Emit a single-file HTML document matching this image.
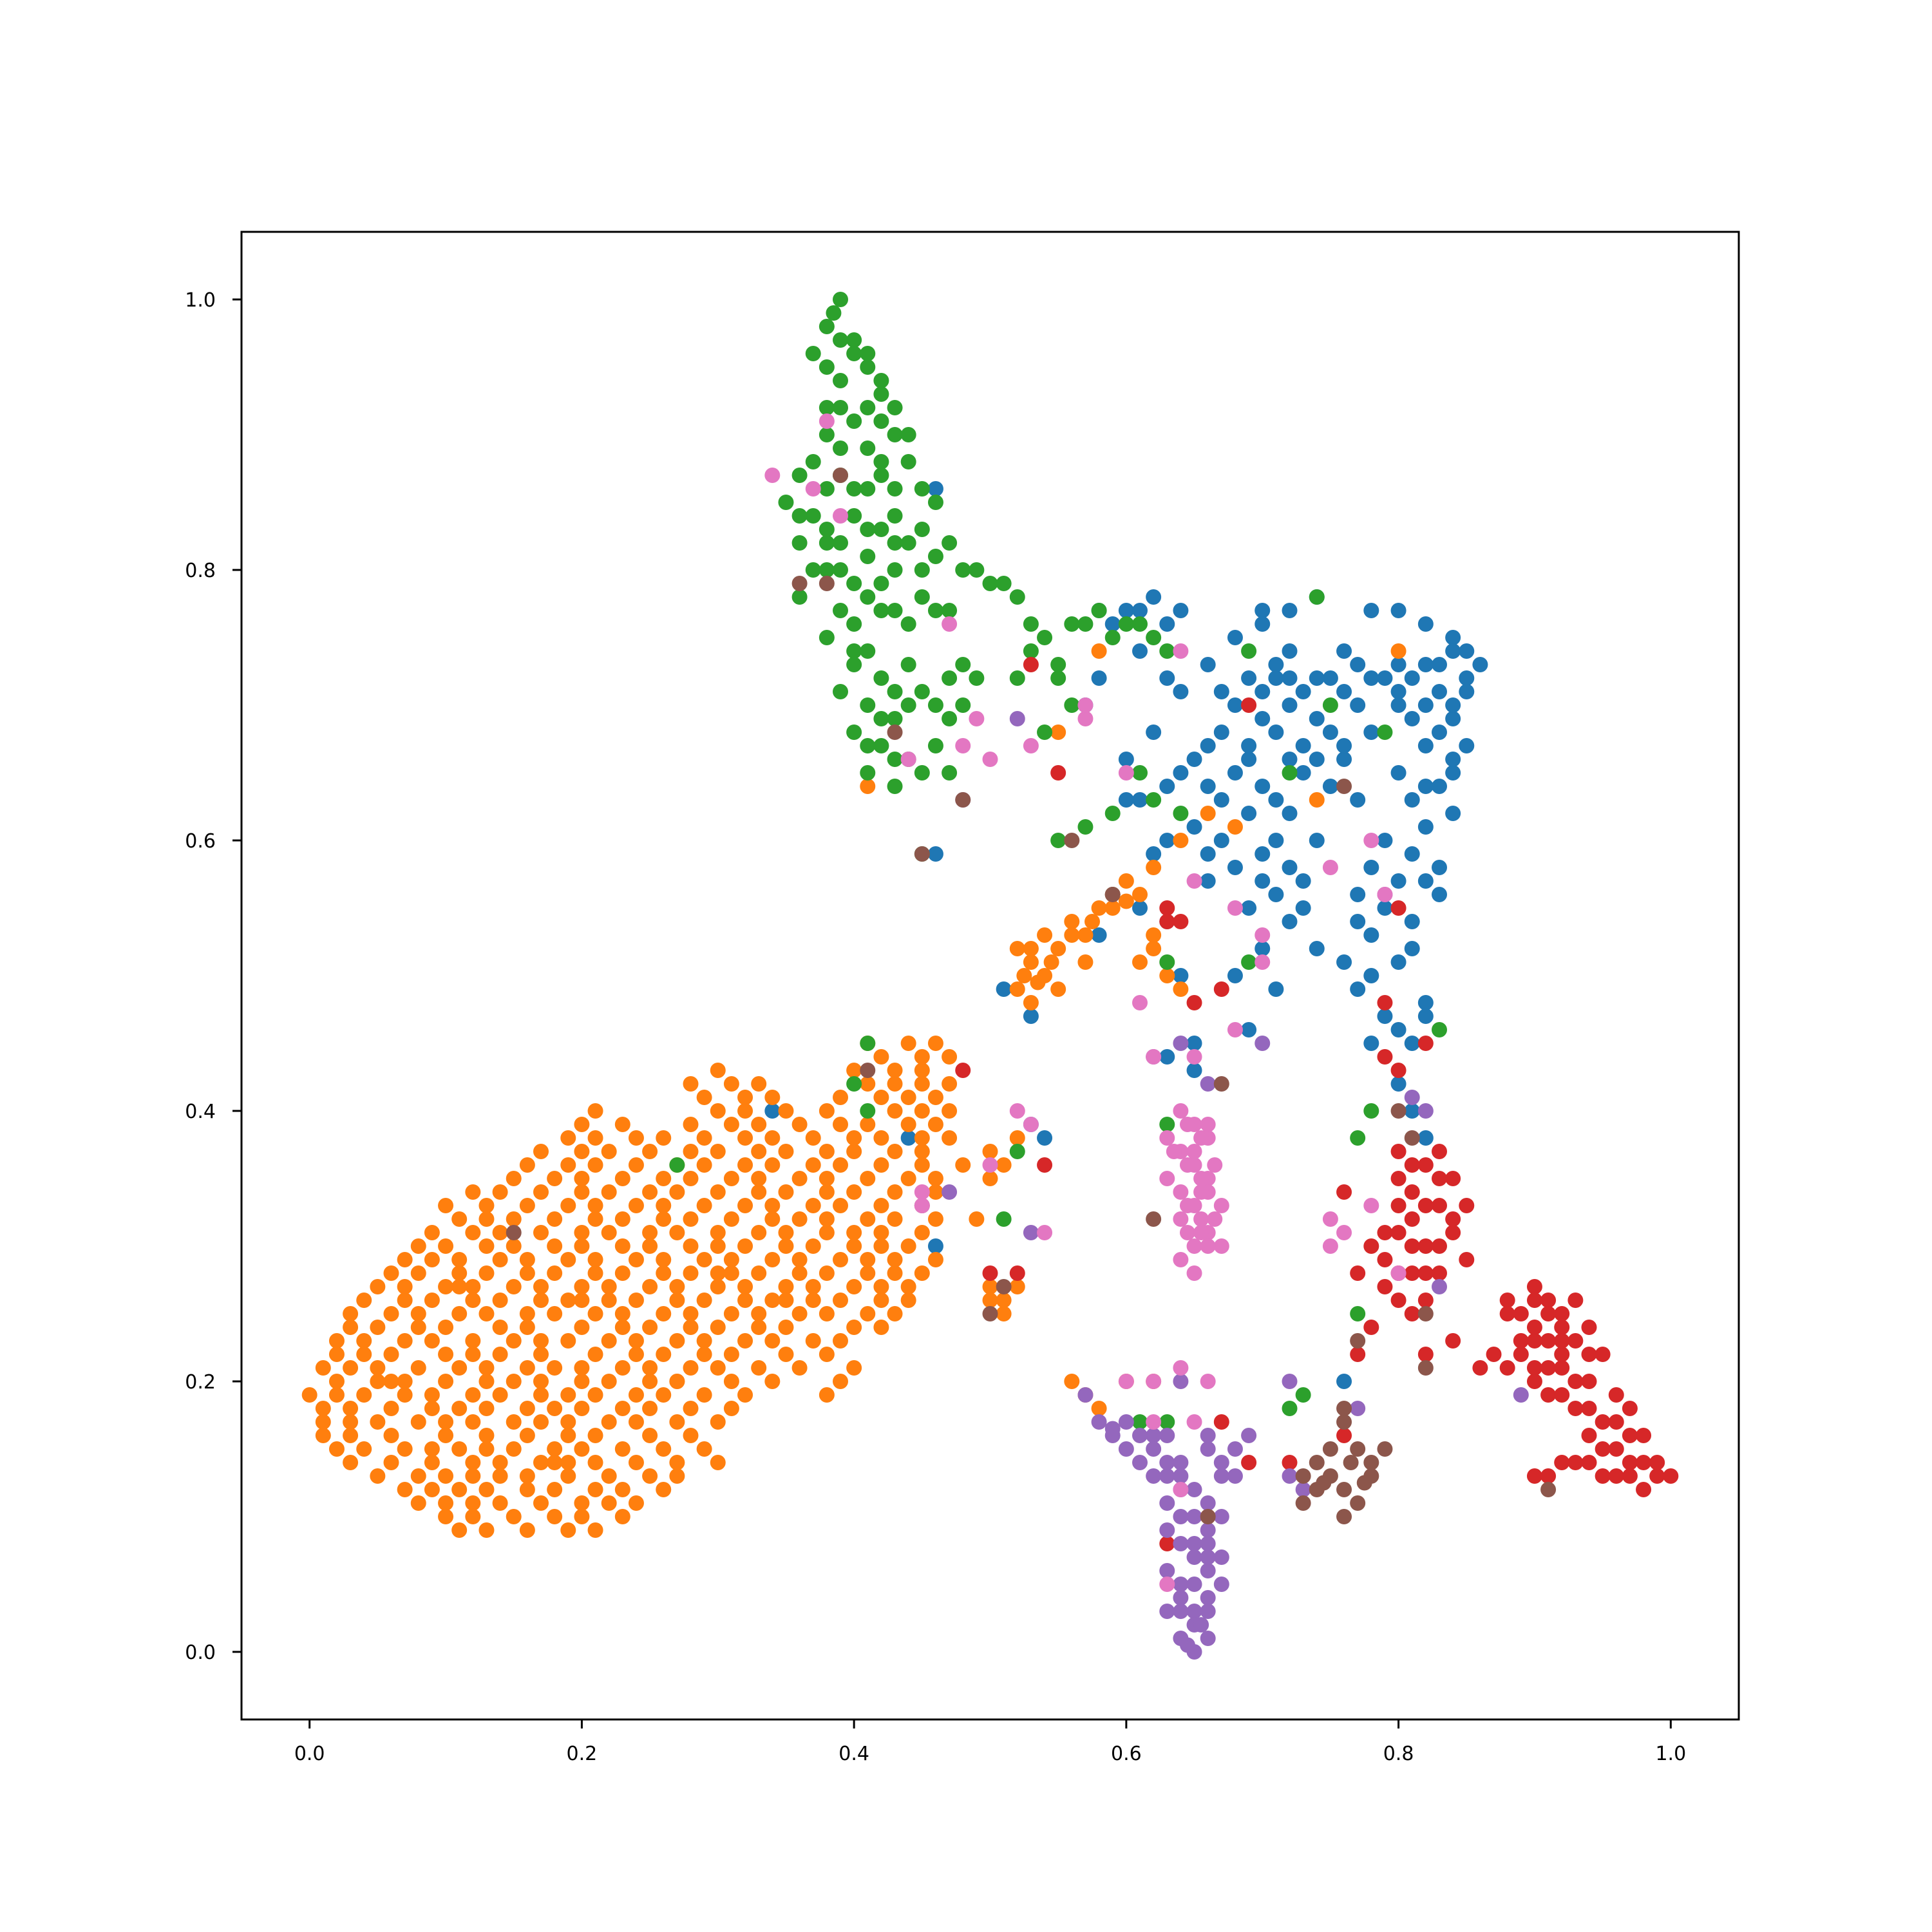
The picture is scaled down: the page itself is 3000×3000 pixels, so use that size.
<!DOCTYPE html>
<html><head><meta charset="utf-8"><style>
html,body{margin:0;padding:0;background:#fff;}
svg{display:block;}
text{font-family:"DejaVu Sans","Liberation Sans",sans-serif;font-size:30px;fill:#000;}
</style></head><body>
<svg id="chart" width="3000" height="3000" viewBox="0 0 3000 3000" xmlns="http://www.w3.org/2000/svg">
<rect x="0" y="0" width="3000" height="3000" fill="#fff"/>
<g id="points"></g>
<g id="axes"></g>
</svg>
<script>
const xTicks = [0.0, 0.2, 0.4, 0.6, 0.8, 1.0];
const yTicks = [0.0, 0.2, 0.4, 0.6, 0.8, 1.0];
const xTickLabels = ["0.0","0.2","0.4","0.6","0.8","1.0"];
const yTickLabels = ["0.0","0.2","0.4","0.6","0.8","1.0"];
const seriesNames = ["blue","orange","green","red","purple","brown","pink"];
const seriesColors = ["#1f77b4","#ff7f0e","#2ca02c","#d62728","#9467bd","#8c564b","#e377c2"];

const blueData = "0.58,0.77;0.60,0.77;0.62,0.78;0.64,0.77;0.68,0.75;0.70,0.76;0.72,0.77;0.74,0.78;0.78,0.77;0.80,0.77;0.82,0.76;0.84,0.75;0.85,0.74;0.57,0.70;0.63,0.72;0.66,0.73;0.69,0.72;0.71,0.72;0.73,0.71;0.75,0.72;0.77,0.73;0.79,0.72;0.81,0.72;0.83,0.71;0.85,0.72;0.86,0.73;0.60,0.66;0.62,0.68;0.65,0.66;0.67,0.68;0.70,0.69;0.73,0.67;0.75,0.68;0.78,0.68;0.81,0.69;0.83,0.68;0.85,0.67;0.61,0.63;0.64,0.65;0.66,0.64;0.68,0.65;0.70,0.64;0.72,0.66;0.75,0.64;0.77,0.63;0.82,0.64;0.84,0.65;0.63,0.60;0.65,0.61;0.67,0.60;0.70,0.59;0.72,0.58;0.74,0.60;0.79,0.60;0.81,0.59;0.83,0.58;0.59,0.56;0.61,0.55;0.63,0.54;0.69,0.55;0.71,0.56;0.73,0.55;0.77,0.56;0.79,0.55;0.81,0.54;0.83,0.56;0.58,0.53;0.64,0.50;0.68,0.50;0.70,0.52;0.71,0.49;0.76,0.51;0.78,0.50;0.80,0.51;0.82,0.48;0.63,0.44;0.65,0.45;0.69,0.46;0.78,0.45;0.80,0.46;0.82,0.47;0.80,0.42;0.81,0.40;0.82,0.38;0.51,0.49;0.53,0.47;0.46,0.59;0.46,0.86;0.34,0.40;0.44,0.38;0.53,0.39;0.54,0.38;0.76,0.20;0.46,0.30;0.72,0.74;0.76,0.66;0.80,0.65;0.84,0.69;0.74,0.52;0.66,0.57;0.72,0.62;0.69,0.67;0.78,0.58;0.82,0.61;0.84,0.62;0.80,0.70;0.76,0.74;0.67,0.71;" +
"0.59,0.76;0.61,0.77;0.63,0.76;0.70,0.77;0.71,0.73;0.72,0.72;0.74,0.72;0.76,0.71;0.78,0.72;0.80,0.73;0.82,0.73;0.84,0.74;0.85,0.71;0.83,0.73;0.64,0.71;0.68,0.70;0.70,0.71;0.72,0.70;0.74,0.69;0.77,0.70;0.80,0.71;0.82,0.70;0.84,0.70;0.66,0.67;0.69,0.66;0.71,0.68;0.74,0.66;0.76,0.67;0.82,0.67;0.84,0.66;0.63,0.64;0.67,0.63;0.69,0.62;0.71,0.63;0.73,0.65;0.81,0.63;0.83,0.64;0.66,0.59;0.68,0.58;0.71,0.60;0.73,0.57;0.80,0.57;0.82,0.57;0.70,0.57;0.72,0.54;0.77,0.54;0.78,0.53;0.81,0.52;0.77,0.49;0.79,0.47;0.81,0.45;0.65,0.43;0.62,0.59;0.60,0.63;0.58,0.72;0.61,0.74";
const orangeData = "0.11,0.09;0.13,0.09;0.16,0.09;0.19,0.09;0.21,0.09;0.08,0.11;0.10,0.11;0.12,0.11;0.14,0.11;0.17,0.11;0.20,0.11;0.22,0.11;0.24,0.11;0.05,0.13;0.08,0.13;0.10,0.13;0.12,0.13;0.14,0.13;0.16,0.13;0.19,0.13;0.22,0.13;0.25,0.13;0.27,0.13;0.02,0.15;0.04,0.15;0.07,0.15;0.09,0.15;0.11,0.15;0.13,0.15;0.15,0.15;0.18,0.15;0.20,0.15;0.23,0.15;0.26,0.15;0.29,0.15;0.01,0.17;0.03,0.17;0.05,0.17;0.08,0.17;0.10,0.17;0.12,0.17;0.15,0.17;0.17,0.17;0.19,0.17;0.22,0.17;0.24,0.17;0.27,0.17;0.30,0.17;0.0,0.19;0.02,0.19;0.04,0.19;0.07,0.19;0.09,0.19;0.12,0.19;0.14,0.19;0.17,0.19;0.19,0.19;0.21,0.19;0.24,0.19;0.26,0.19;0.29,0.19;0.32,0.19;0.38,0.19;0.01,0.21;0.03,0.21;0.05,0.21;0.08,0.21;0.11,0.21;0.13,0.21;0.16,0.21;0.18,0.21;0.20,0.21;0.23,0.21;0.25,0.21;0.28,0.21;0.30,0.21;0.33,0.21;0.36,0.21;0.40,0.21;0.02,0.23;0.04,0.23;0.07,0.23;0.09,0.23;0.12,0.23;0.15,0.23;0.17,0.23;0.19,0.23;0.22,0.23;0.24,0.23;0.27,0.23;0.29,0.23;0.32,0.23;0.34,0.23;0.37,0.23;0.39,0.23;0.03,0.25;0.06,0.25;0.08,0.25;0.11,0.25;0.13,0.25;0.16,0.25;0.18,0.25;0.21,0.25;0.23,0.25;0.26,0.25;0.28,0.25;0.31,0.25;0.33,0.25;0.36,0.25;0.38,0.25;0.41,0.25;0.43,0.25;0.05,0.27;0.07,0.27;0.10,0.27;0.12,0.27;0.15,0.27;0.17,0.27;0.20,0.27;0.22,0.27;0.25,0.27;0.27,0.27;0.30,0.27;0.32,0.27;0.35,0.27;0.37,0.27;0.40,0.27;0.42,0.27;0.44,0.27;0.07,0.29;0.09,0.29;0.11,0.29;0.14,0.29;0.16,0.29;0.19,0.29;0.21,0.29;0.24,0.29;0.26,0.29;0.29,0.29;0.31,0.29;0.34,0.29;0.36,0.29;0.39,0.29;0.41,0.29;0.43,0.29;0.46,0.29;0.09,0.31;0.12,0.31;0.14,0.31;0.17,0.31;0.20,0.31;0.22,0.31;0.25,0.31;0.27,0.31;0.30,0.31;0.33,0.31;0.35,0.31;0.38,0.31;0.40,0.31;0.42,0.31;0.45,0.31;0.10,0.33;0.13,0.33;0.16,0.33;0.19,0.33;0.21,0.33;0.24,0.33;0.26,0.33;0.29,0.33;0.32,0.33;0.34,0.33;0.37,0.33;0.39,0.33;0.42,0.33;0.45,0.33;0.15,0.35;0.18,0.35;0.20,0.35;0.23,0.35;0.26,0.35;0.28,0.35;0.31,0.35;0.33,0.35;0.36,0.35;0.38,0.35;0.41,0.35;0.44,0.35;0.46,0.35;0.17,0.37;0.20,0.37;0.22,0.37;0.25,0.37;0.28,0.37;0.30,0.37;0.33,0.37;0.35,0.37;0.38,0.37;0.40,0.37;0.45,0.37;0.20,0.39;0.23,0.39;0.28,0.39;0.31,0.39;0.33,0.39;0.36,0.39;0.39,0.39;0.41,0.39;0.44,0.39;0.46,0.39;0.29,0.41;0.32,0.41;0.34,0.41;0.39,0.41;0.42,0.41;0.44,0.41;0.46,0.41;0.30,0.43;0.40,0.43;0.43,0.43;0.45,0.43;0.41,0.45;0.44,0.45;0.46,0.45;0.48,0.36;0.50,0.37;0.52,0.38;0.49,0.32;0.50,0.27;0.51,0.25;0.52,0.27;0.50,0.26;0.52,0.49;0.53,0.51;0.54,0.50;0.52,0.52;0.54,0.53;0.55,0.52;0.56,0.54;0.57,0.53;0.58,0.55;0.59,0.56;0.60,0.57;0.61,0.56;0.62,0.53;0.61,0.51;0.63,0.50;0.53,0.48;0.55,0.49;0.57,0.51;0.56,0.20;0.57,0.19;0.58,0.18;0.60,0.20;0.62,0.20;0.64,0.60;0.66,0.62;0.68,0.61;0.74,0.63;0.80,0.74;0.55,0.68;0.58,0.74;0.62,0.58;0.41,0.64;0.06,0.20;0.14,0.24;0.23,0.32;0.31,0.28;0.18,0.14;0.27,0.20;0.35,0.26;0.43,0.37;0.11,0.27;0.20,0.26;" +
"0.10,0.10;0.12,0.10;0.15,0.10;0.18,0.10;0.20,0.10;0.23,0.10;0.07,0.12;0.09,0.12;0.11,0.12;0.13,0.12;0.16,0.12;0.18,0.12;0.21,0.12;0.23,0.12;0.26,0.12;0.03,0.14;0.06,0.14;0.09,0.14;0.12,0.14;0.14,0.14;0.17,0.14;0.19,0.14;0.21,0.14;0.24,0.14;0.27,0.14;0.30,0.14;0.01,0.16;0.03,0.16;0.06,0.16;0.10,0.16;0.13,0.16;0.16,0.16;0.19,0.16;0.21,0.16;0.25,0.16;0.28,0.16;0.01,0.18;0.03,0.18;0.06,0.18;0.09,0.18;0.11,0.18;0.13,0.18;0.16,0.18;0.18,0.18;0.20,0.18;0.23,0.18;0.25,0.18;0.28,0.18;0.31,0.18;0.02,0.20;0.05,0.20;0.07,0.20;0.10,0.20;0.13,0.20;0.15,0.20;0.17,0.20;0.20,0.20;0.22,0.20;0.25,0.20;0.27,0.20;0.31,0.20;0.34,0.20;0.39,0.20;0.02,0.22;0.04,0.22;0.06,0.22;0.10,0.22;0.12,0.22;0.14,0.22;0.17,0.22;0.21,0.22;0.24,0.22;0.26,0.22;0.29,0.22;0.31,0.22;0.35,0.22;0.38,0.22;0.03,0.24;0.05,0.24;0.08,0.24;0.10,0.24;0.16,0.24;0.20,0.24;0.23,0.24;0.25,0.24;0.28,0.24;0.30,0.24;0.33,0.24;0.35,0.24;0.40,0.24;0.42,0.24;0.04,0.26;0.07,0.26;0.09,0.26;0.12,0.26;0.14,0.26;0.17,0.26;0.19,0.26;0.22,0.26;0.24,0.26;0.27,0.26;0.29,0.26;0.32,0.26;0.34,0.26;0.37,0.26;0.39,0.26;0.42,0.26;0.44,0.26;0.06,0.28;0.08,0.28;0.11,0.28;0.13,0.28;0.16,0.28;0.18,0.28;0.21,0.28;0.23,0.28;0.26,0.28;0.28,0.28;0.30,0.28;0.33,0.28;0.36,0.28;0.38,0.28;0.41,0.28;0.43,0.28;0.45,0.28;0.08,0.30;0.10,0.30;0.13,0.30;0.15,0.30;0.18,0.30;0.20,0.30;0.23,0.30;0.25,0.30;0.28,0.30;0.30,0.30;0.32,0.30;0.35,0.30;0.37,0.30;0.40,0.30;0.42,0.30;0.44,0.30;0.11,0.32;0.13,0.32;0.15,0.32;0.18,0.32;0.21,0.32;0.26,0.32;0.28,0.32;0.31,0.32;0.34,0.32;0.36,0.32;0.38,0.32;0.41,0.32;0.43,0.32;0.46,0.32;0.12,0.34;0.14,0.34;0.17,0.34;0.20,0.34;0.22,0.34;0.25,0.34;0.27,0.34;0.30,0.34;0.33,0.34;0.35,0.34;0.38,0.34;0.40,0.34;0.43,0.34;0.46,0.34;0.16,0.36;0.19,0.36;0.21,0.36;0.24,0.36;0.27,0.36;0.29,0.36;0.32,0.36;0.34,0.36;0.37,0.36;0.39,0.36;0.42,0.36;0.45,0.36;0.19,0.38;0.21,0.38;0.24,0.38;0.26,0.38;0.29,0.38;0.32,0.38;0.34,0.38;0.37,0.38;0.40,0.38;0.42,0.38;0.45,0.38;0.47,0.38;0.21,0.40;0.30,0.40;0.32,0.40;0.35,0.40;0.38,0.40;0.43,0.40;0.45,0.40;0.47,0.40;0.28,0.42;0.31,0.42;0.33,0.42;0.41,0.42;0.43,0.42;0.45,0.42;0.47,0.42;0.42,0.44;0.45,0.44;0.47,0.44;0.525,0.50;0.535,0.495;0.53,0.52;0.545,0.51;0.56,0.53;0.575,0.54;0.59,0.55;0.60,0.555;0.62,0.52;0.64,0.49;0.51,0.26;0.50,0.35;0.51,0.36";
const greenData = "0.39,1.0;0.38,0.98;0.40,0.97;0.37,0.96;0.39,0.94;0.41,0.95;0.42,0.93;0.40,0.91;0.43,0.92;0.38,0.90;0.41,0.89;0.44,0.90;0.37,0.88;0.39,0.87;0.42,0.87;0.44,0.88;0.45,0.86;0.35,0.85;0.37,0.84;0.40,0.84;0.43,0.84;0.46,0.85;0.36,0.82;0.39,0.82;0.41,0.81;0.44,0.82;0.47,0.82;0.38,0.80;0.40,0.79;0.42,0.79;0.45,0.80;0.48,0.80;0.50,0.79;0.36,0.78;0.39,0.77;0.42,0.77;0.44,0.76;0.47,0.77;0.52,0.78;0.38,0.75;0.41,0.74;0.44,0.73;0.47,0.72;0.49,0.72;0.39,0.71;0.41,0.70;0.43,0.69;0.46,0.70;0.48,0.70;0.40,0.68;0.42,0.67;0.44,0.66;0.46,0.67;0.41,0.65;0.43,0.64;0.47,0.65;0.53,0.74;0.55,0.73;0.56,0.70;0.54,0.68;0.57,0.76;0.59,0.75;0.61,0.76;0.63,0.74;0.52,0.72;0.54,0.75;0.45,0.59;0.57,0.61;0.55,0.60;0.59,0.62;0.62,0.63;0.64,0.62;0.61,0.65;0.72,0.65;0.69,0.74;0.75,0.70;0.74,0.78;0.79,0.68;0.69,0.51;0.63,0.51;0.63,0.39;0.77,0.38;0.78,0.40;0.83,0.46;0.77,0.25;0.73,0.19;0.72,0.18;0.61,0.17;0.63,0.17;0.41,0.45;0.40,0.42;0.27,0.36;0.41,0.40;0.52,0.37;0.51,0.32;0.40,0.96;0.38,0.92;0.42,0.91;0.40,0.86;0.38,0.83;0.42,0.83;0.45,0.78;0.40,0.73;0.43,0.71;" +
"0.385,0.99;0.39,0.97;0.41,0.96;0.38,0.95;0.42,0.94;0.39,0.92;0.41,0.92;0.43,0.90;0.39,0.89;0.42,0.88;0.36,0.87;0.38,0.86;0.41,0.86;0.43,0.86;0.36,0.84;0.38,0.82;0.41,0.83;0.43,0.82;0.45,0.83;0.37,0.80;0.39,0.80;0.41,0.78;0.43,0.80;0.46,0.81;0.49,0.80;0.51,0.79;0.40,0.76;0.43,0.77;0.46,0.77;0.40,0.74;0.42,0.72;0.45,0.71;0.48,0.73;0.42,0.69;0.44,0.70;0.47,0.69;0.41,0.67;0.43,0.66;0.45,0.65;0.53,0.76;0.55,0.72;0.56,0.76;0.58,0.77;0.60,0.76;0.62,0.75";
const redData = "0.80,0.37;0.82,0.36;0.84,0.35;0.81,0.34;0.83,0.33;0.85,0.33;0.80,0.31;0.82,0.30;0.84,0.31;0.79,0.29;0.81,0.28;0.83,0.28;0.85,0.29;0.80,0.26;0.82,0.26;0.76,0.34;0.78,0.30;0.77,0.28;0.82,0.22;0.80,0.43;0.79,0.44;0.88,0.26;0.89,0.25;0.90,0.27;0.91,0.26;0.92,0.25;0.93,0.26;0.89,0.23;0.91,0.23;0.93,0.23;0.95,0.22;0.87,0.22;0.90,0.21;0.92,0.21;0.94,0.20;0.91,0.19;0.93,0.18;0.95,0.17;0.97,0.18;0.94,0.16;0.96,0.15;0.98,0.16;0.92,0.14;0.94,0.14;0.97,0.14;0.99,0.13;0.90,0.13;0.98,0.12;1.0,0.13;0.96,0.13;0.86,0.21;0.84,0.23;0.77,0.22;0.78,0.24;0.76,0.16;0.72,0.14;0.63,0.55;0.64,0.54;0.63,0.54;0.67,0.49;0.65,0.48;0.55,0.65;0.69,0.70;0.80,0.55;0.79,0.48;0.82,0.45;0.54,0.36;0.50,0.28;0.52,0.28;0.48,0.43;0.66,0.10;0.63,0.08;0.67,0.17;0.69,0.14;0.53,0.73;0.81,0.32;0.83,0.35;0.90,0.24;0.92,0.22;0.94,0.24;" +
"0.81,0.36;0.83,0.37;0.80,0.35;0.82,0.33;0.84,0.32;0.80,0.33;0.79,0.31;0.81,0.30;0.83,0.30;0.80,0.28;0.82,0.28;0.81,0.25;0.79,0.27;0.88,0.25;0.90,0.26;0.91,0.25;0.92,0.24;0.90,0.23;0.92,0.23;0.94,0.22;0.89,0.22;0.91,0.21;0.93,0.20;0.92,0.19;0.94,0.18;0.96,0.17;0.95,0.15;0.97,0.16;0.93,0.14;0.95,0.13;0.97,0.13;0.99,0.14;0.98,0.14;0.96,0.19;0.91,0.13;0.90,0.20;0.88,0.21";
const purpleData = "0.65,0.0;0.64,0.01;0.66,0.01;0.65,0.03;0.63,0.03;0.66,0.04;0.64,0.05;0.66,0.06;0.65,0.07;0.67,0.07;0.64,0.08;0.66,0.09;0.65,0.10;0.63,0.11;0.64,0.12;0.62,0.13;0.64,0.14;0.61,0.14;0.60,0.15;0.59,0.16;0.58,0.17;0.62,0.16;0.57,0.19;0.66,0.15;0.67,0.14;0.68,0.13;0.69,0.16;0.67,0.10;0.66,0.16;0.64,0.20;0.60,0.17;0.72,0.13;0.73,0.12;0.72,0.20;0.77,0.18;0.81,0.41;0.82,0.40;0.83,0.27;0.89,0.19;0.70,0.45;0.66,0.42;0.64,0.45;0.62,0.44;0.45,0.33;0.47,0.34;0.53,0.31;0.52,0.69;0.48,0.63;0.79,0.56;0.65,0.02;0.64,0.04;0.66,0.08;0.63,0.13;" +
"0.645,0.005;0.655,0.02;0.64,0.03;0.66,0.03;0.65,0.05;0.63,0.06;0.67,0.05;0.65,0.08;0.66,0.07;0.63,0.09;0.64,0.10;0.66,0.11;0.65,0.12;0.63,0.14;0.62,0.15;0.63,0.16;0.61,0.16;0.59,0.165;0.67,0.13;0.68,0.15;0.64,0.13";
const brownData = "0.73,0.11;0.74,0.12;0.75,0.13;0.76,0.12;0.77,0.11;0.78,0.13;0.75,0.15;0.77,0.15;0.74,0.14;0.76,0.17;0.78,0.14;0.79,0.15;0.73,0.13;0.76,0.10;0.77,0.23;0.76,0.18;0.80,0.40;0.81,0.38;0.82,0.25;0.82,0.21;0.62,0.32;0.50,0.25;0.51,0.27;0.45,0.59;0.43,0.68;0.41,0.43;0.39,0.87;0.38,0.79;0.36,0.79;0.15,0.31;0.56,0.60;0.59,0.56;0.67,0.42;0.66,0.10;0.76,0.64;0.91,0.12;0.48,0.63;0.745,0.125;0.765,0.14;0.775,0.125";
const pinkData = "0.64,0.40;0.65,0.39;0.66,0.38;0.64,0.37;0.65,0.36;0.66,0.35;0.64,0.34;0.65,0.33;0.67,0.33;0.64,0.32;0.66,0.31;0.65,0.30;0.67,0.30;0.65,0.28;0.63,0.35;0.63,0.38;0.62,0.44;0.65,0.44;0.66,0.20;0.64,0.21;0.62,0.20;0.60,0.20;0.62,0.17;0.65,0.17;0.63,0.05;0.64,0.12;0.75,0.32;0.76,0.31;0.75,0.30;0.78,0.33;0.80,0.28;0.34,0.87;0.38,0.91;0.37,0.86;0.39,0.84;0.49,0.69;0.48,0.67;0.50,0.66;0.44,0.66;0.47,0.76;0.53,0.67;0.57,0.69;0.52,0.40;0.53,0.39;0.50,0.36;0.54,0.31;0.45,0.34;0.45,0.33;0.70,0.53;0.70,0.51;0.68,0.55;0.78,0.60;0.75,0.58;0.65,0.57;0.60,0.65;0.64,0.74;0.57,0.70;0.79,0.56;0.61,0.48;0.68,0.46;0.65,0.37;0.66,0.34;0.64,0.29;" +
"0.645,0.39;0.655,0.38;0.645,0.36;0.655,0.35;0.645,0.33;0.655,0.32;0.665,0.32;0.645,0.31;0.655,0.31;0.66,0.30;0.665,0.36;0.635,0.37;0.66,0.39;0.655,0.34";

const seriesData = [blueData, orangeData, greenData, redData, purpleData, brownData, pinkData];

const L = 375, R = 2700, T = 360, B = 2670;
const xMin = -0.05, xMax = 1.05, yMin = -0.05, yMax = 1.05;
function xScale(v){ return L + (v - xMin) / (xMax - xMin) * (R - L); }
function yScale(v){ return B - (v - yMin) / (yMax - yMin) * (B - T); }
const NS = "http://www.w3.org/2000/svg";
const pts = document.getElementById('points');
seriesData.forEach(function(str, si){
  const g = document.createElementNS(NS, 'g');
  
  
  g.setAttribute('fill', seriesColors[si]);
  str.split(';').forEach(function(p){
    const xy = p.split(',').map(Number);
    const c = document.createElementNS(NS, 'circle');
    
    
    c.setAttribute('cx', xScale(xy[0]));
    c.setAttribute('cy', yScale(xy[1]));
    c.setAttribute('r', 12);
    g.appendChild(c);
  });
  pts.appendChild(g);
});
const ax = document.getElementById('axes');
const frame = document.createElementNS(NS, 'rect');


frame.setAttribute('x', L); frame.setAttribute('y', T);
frame.setAttribute('width', R - L); frame.setAttribute('height', B - T);
frame.setAttribute('fill', 'none'); frame.setAttribute('stroke', '#000'); frame.setAttribute('stroke-width', 3);
ax.appendChild(frame);
xTicks.forEach(function(v, i){
  const x = xScale(v);
  const t = document.createElementNS(NS, 'line');
  
  
  t.setAttribute('x1', x); t.setAttribute('x2', x); t.setAttribute('y1', B); t.setAttribute('y2', B + 14);
  t.setAttribute('stroke', '#000'); t.setAttribute('stroke-width', 3);
  ax.appendChild(t);
  const lb = document.createElementNS(NS, 'text');
  
  
  lb.setAttribute('x', x); lb.setAttribute('y', B + 63);
  lb.setAttribute('text-anchor', 'middle');
  lb.textContent = xTickLabels[i];
  ax.appendChild(lb);
});
yTicks.forEach(function(v, i){
  const y = yScale(v);
  const t = document.createElementNS(NS, 'line');
  
  
  t.setAttribute('x1', L - 14); t.setAttribute('x2', L); t.setAttribute('y1', y); t.setAttribute('y2', y);
  t.setAttribute('stroke', '#000'); t.setAttribute('stroke-width', 3);
  ax.appendChild(t);
  const lb = document.createElementNS(NS, 'text');
  
  
  lb.setAttribute('x', L - 40); lb.setAttribute('y', y + 11);
  lb.setAttribute('text-anchor', 'end');
  lb.textContent = yTickLabels[i];
  ax.appendChild(lb);
});
</script>
</body></html>
